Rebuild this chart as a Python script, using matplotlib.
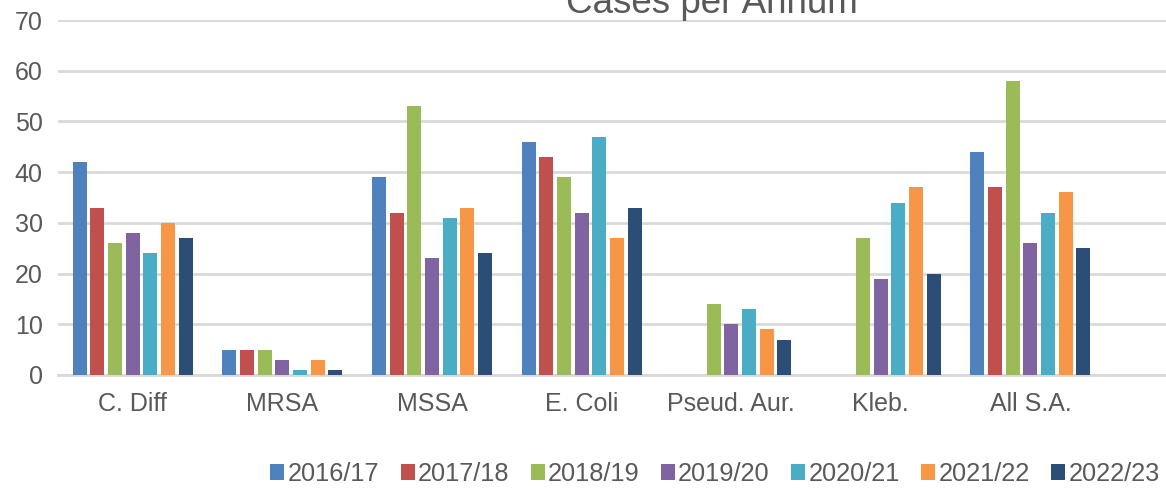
import matplotlib
matplotlib.use("Agg")
import matplotlib.pyplot as plt
import numpy as np

categories = ["C. Diff", "MRSA", "MSSA", "E. Coli", "Pseud. Aur.", "Kleb.", "All S.A."]
series_names = ["2016/17", "2017/18", "2018/19", "2019/20", "2020/21", "2021/22", "2022/23"]
s2016 = [42, 5, 39, 46, 0, 0, 44]
s2017 = [33, 5, 32, 43, 0, 0, 37]
s2018 = [26, 5, 53, 39, 14, 27, 58]
s2019 = [28, 3, 23, 32, 10, 19, 26]
s2020 = [24, 1, 31, 47, 13, 34, 32]
s2021 = [30, 3, 33, 27, 9, 37, 36]
s2022 = [27, 1, 24, 33, 7, 20, 25]
series = [s2016, s2017, s2018, s2019, s2020, s2021, s2022]
colors = ["#4F81BD", "#C0504D", "#9BBB59", "#8064A2", "#4BACC6", "#F79646", "#2C4D75"]
title = "Cases per Annum"
yticks = [0, 10, 20, 30, 40, 50, 60, 70]

plt.rcParams['font.family'] = ['Liberation Sans', 'DejaVu Sans']
txt = "#595959"
W, H = 1166, 488
fig = plt.figure(figsize=(W / 100, H / 100), dpi=100)
left, right = 58, 1166
bottom, top = 375, 20
ax = fig.add_axes([left / W, (H - bottom) / H, (right - left) / W, (bottom - top) / H])

x = np.arange(len(categories))
step = 0.1183
width = 0.0936
for i, (vals, name, c) in enumerate(zip(series, series_names, colors)):
    ax.bar(x + (i - 3) * step, vals, width=width, color=c, label=name, zorder=3)

cat_px = 149.6
ax.set_xlim(-0.5, -0.5 + (right - left) / cat_px)
ax.set_ylim(0, 70)
ax.set_yticks(yticks)
ax.set_xticks(x)
ax.set_xticklabels(categories)
ax.yaxis.grid(True, color="#D9D9D9", linewidth=2, zorder=0)
ax.set_axisbelow(True)
for sp in ["top", "right", "left"]:
    ax.spines[sp].set_visible(False)
ax.spines["bottom"].set_color("#D9D9D9")
ax.spines["bottom"].set_linewidth(2)
ax.tick_params(axis="both", length=0, labelsize=18, labelcolor=txt)
ax.tick_params(axis="y", pad=11)
ax.tick_params(axis="x", pad=12)

fig.text(712 / W, (H - 13) / H, title, ha="center", va="baseline", fontsize=26.5, color=txt)

leg = fig.legend(loc="center", bbox_to_anchor=(715 / W, 14 / H), ncol=7, frameon=False,
                 fontsize=18.3, handlelength=0.55, handleheight=0.55, handletextpad=0.12,
                 columnspacing=0.85, borderaxespad=0, borderpad=0)
for t in leg.get_texts():
    t.set_color(txt)

fig.savefig("out.png", dpi=100)
